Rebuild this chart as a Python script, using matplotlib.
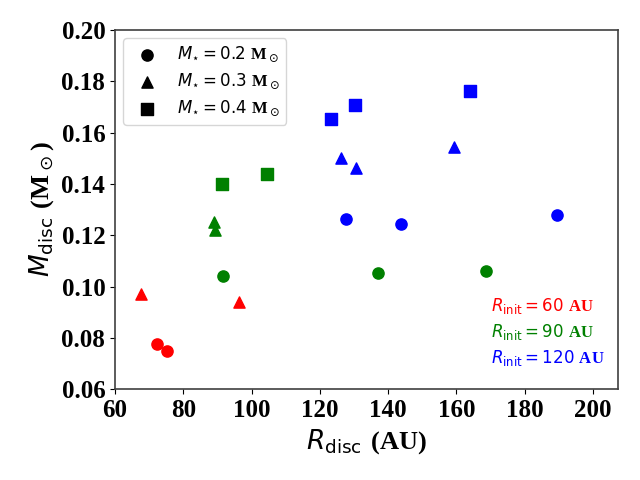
import matplotlib
matplotlib.use("Agg")
import matplotlib.pyplot as plt

# disc radius (AU) and disc mass (Msun), grouped by initial radius and stellar mass
# R_init = 60 AU
r60_m02 = [72.2, 75.2]
m60_m02 = [0.0776, 0.0751]
r60_m03 = [67.5, 96.3]
m60_m03 = [0.0970, 0.0940]

# R_init = 90 AU
r90_m02 = [91.6, 137.0, 168.7]
m90_m02 = [0.1041, 0.1052, 0.1060]
r90_m03 = [89.1, 89.3]
m90_m03 = [0.1250, 0.1220]
r90_m04 = [91.3, 104.6]
m90_m04 = [0.1400, 0.1440]

# R_init = 120 AU
r120_m02 = [127.6, 143.8, 189.5]
m120_m02 = [0.1265, 0.1245, 0.1278]
r120_m03 = [126.3, 130.6, 159.3]
m120_m03 = [0.1500, 0.1462, 0.1545]
r120_m04 = [123.3, 130.3, 164.0]
m120_m04 = [0.1655, 0.1708, 0.1763]

star_masses = ["0.2", "0.3", "0.4"]
markers = ["o", "^", "s"]
rinit_labels = ["60", "90", "120"]
rinit_colors = ["red", "green", "blue"]

# sans maths, bold serif for units (\mathbf)
plt.rcParams["font.family"] = "serif"
plt.rcParams["font.serif"] = ["Liberation Serif", "DejaVu Serif"]
plt.rcParams["mathtext.fontset"] = "custom"
plt.rcParams["mathtext.rm"] = "DejaVu Sans"
plt.rcParams["mathtext.it"] = "DejaVu Sans:italic"
plt.rcParams["mathtext.sf"] = "DejaVu Sans"
plt.rcParams["mathtext.bf"] = "Liberation Serif:bold"

fig = plt.figure(figsize=(6.4, 4.8), dpi=100)
ax = fig.add_axes([115 / 640, 1 - 389.3 / 480, 502.7 / 640, 359.3 / 480])

s = 65
ax.scatter(r60_m02, m60_m02, c="red", marker="o", s=s)
ax.scatter(r60_m03, m60_m03, c="red", marker="^", s=s)
ax.scatter(r90_m02, m90_m02, c="green", marker="o", s=s)
ax.scatter(r90_m03, m90_m03, c="green", marker="^", s=s)
ax.scatter(r90_m04, m90_m04, c="green", marker="s", s=s)
ax.scatter(r120_m02, m120_m02, c="blue", marker="o", s=s)
ax.scatter(r120_m03, m120_m03, c="blue", marker="^", s=s)
ax.scatter(r120_m04, m120_m04, c="blue", marker="s", s=s)

# black proxy markers for the legend
handles = []
for mstar, mk in zip(star_masses, markers):
    h = ax.scatter([], [], c="k", marker=mk, s=s,
                   label=r"$M_{\star} = %s\ \mathbf{M}_\odot$" % mstar)
    handles.append(h)
ax.legend(handles=handles, loc="upper left", fontsize=12, borderaxespad=0.5,
          labelspacing=0.45)

for i, (lab, col) in enumerate(zip(rinit_labels, rinit_colors)):
    ax.text(0.747, 0.231 - 0.072 * i, r"$R_{\rm init} = %s\ \mathbf{AU}$" % lab,
            color=col, fontsize=12, transform=ax.transAxes, va="center")

ax.set_xlim(60, 207.3)
ax.set_ylim(0.06, 0.20)
ax.set_xticks([60, 80, 100, 120, 140, 160, 180, 200])
ax.set_yticks([0.06, 0.08, 0.10, 0.12, 0.14, 0.16, 0.18, 0.20])
ax.tick_params(labelsize=18)
for lbl in ax.get_xticklabels() + ax.get_yticklabels():
    lbl.set_fontweight("bold")
for sp in ax.spines.values():
    sp.set_color("0.25")
    sp.set_linewidth(1.2)

ax.set_xlabel(r"$R_{\rm disc}\ \mathbf{(AU)}$", fontsize=19)
ax.set_ylabel(r"$M_{\rm disc}\ \mathbf{(M}_\odot\mathbf{)}$", fontsize=19)

fig.savefig("out.png", dpi=100)
